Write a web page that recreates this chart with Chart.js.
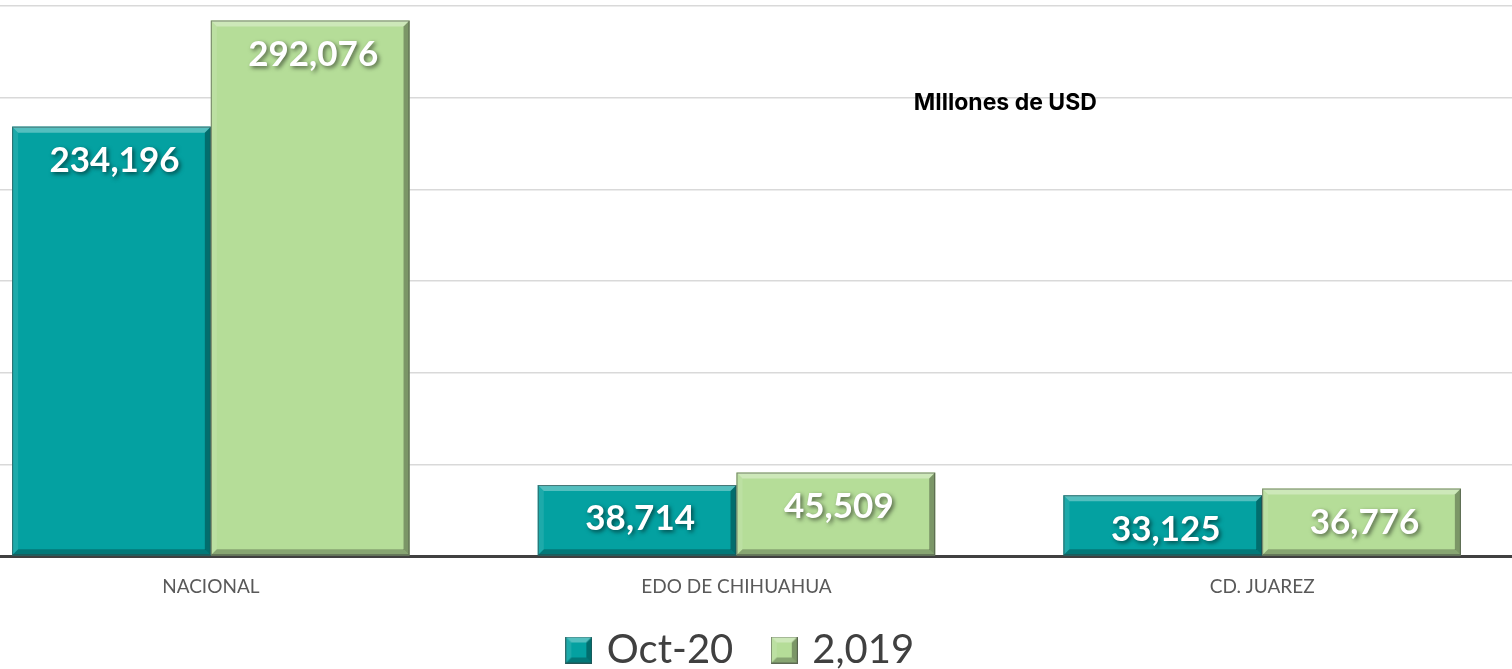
<!DOCTYPE html>
<html>
<head>
<meta charset="utf-8">
<script src="https://cdn.jsdelivr.net/npm/chart.js@4.4.1/dist/chart.umd.min.js"></script>
<style>
html,body{margin:0;padding:0;background:#fff;overflow:hidden;width:1512px;height:669px;}
#wrap{position:absolute;left:-52px;top:0;width:1577px;height:669px;}
</style>
</head>
<body>
<div id="wrap"><canvas id="c"></canvas></div>
<script>
const categories = ["NACIONAL", "EDO DE CHIHUAHUA", "CD. JUAREZ"];
const seriesNames = ["Oct-20", "2,019"];
const oct20 = [234196, 38714, 33125];
const y2019 = [292076, 45509, 36776];
const yTicks = [0, 50000, 100000, 150000, 200000, 250000, 300000];
const chartTitle = "MIllones de USD";

const colors = ["#04a1a1", "#b5dd98"];

function bevelRect(ctx, l, t, r, b, color, bw) {
  ctx.save();
  ctx.fillStyle = color;
  ctx.fillRect(l, t, r - l, b - t);
  const poly = (pts, fill) => {
    ctx.beginPath();
    ctx.moveTo(pts[0][0], pts[0][1]);
    for (let i = 1; i < pts.length; i++) ctx.lineTo(pts[i][0], pts[i][1]);
    ctx.closePath();
    ctx.fillStyle = fill;
    ctx.fill();
  };
  poly([[l,t],[r,t],[r-bw,t+bw],[l+bw,t+bw]], "rgba(255,255,255,0.32)");
  poly([[l,t],[l+bw,t+bw],[l+bw,b-bw],[l,b]], "rgba(255,255,255,0.10)");
  poly([[r,t],[r,b],[r-bw,b-bw],[r-bw,t+bw]], "rgba(0,0,0,0.32)");
  poly([[l,b],[l+bw,b-bw],[r-bw,b-bw],[r,b]], "rgba(0,0,0,0.25)");
  ctx.strokeStyle = "rgba(60,60,60,0.55)";
  ctx.lineWidth = 1;
  ctx.strokeRect(l + 0.5, t + 0.5, r - l - 1, b - t - 1);
  ctx.restore();
}

function legendIcon(color) {
  const cv = document.createElement("canvas");
  cv.width = 27; cv.height = 27;
  bevelRect(cv.getContext("2d"), 0, 0, 27, 27, color, 6);
  return cv;
}

const layoutFix = {
  id: "layoutFix",
  beforeLayout(chart) {
    const lg = chart.legend;
    if (lg && !lg._patched) {
      const origFit = lg.fit;
      lg.fit = function () { origFit.call(this); this.height = 68; };
      lg.draw = function () {
        if (!this.options.display) return;
        const c = this.ctx;
        c.save();
        c.translate(6, -14);
        this._draw();
        c.restore();
      };
      lg._patched = true;
    }
  }
};

const bevelPlugin = {
  id: "bevel",
  afterDatasetsDraw(chart) {
    const ctx = chart.ctx;
    chart.data.datasets.forEach((ds, di) => {
      const meta = chart.getDatasetMeta(di);
      meta.data.forEach((bar) => {
        const p = bar.getProps(["x", "y", "base", "width"], true);
        const l = p.x - p.width / 2, r = p.x + p.width / 2;
        bevelRect(ctx, l, p.y, r, p.base, colors[di], 6);
      });
    });
    ctx.save();
    ctx.font = "bold 35px Lato";
    ctx.textAlign = "center";
    ctx.textBaseline = "middle";
    ctx.fillStyle = "#ffffff";
    ctx.shadowColor = "rgba(0,0,0,0.55)";
    ctx.shadowBlur = 4;
    ctx.shadowOffsetX = 2;
    ctx.shadowOffsetY = 2;
    chart.data.datasets.forEach((ds, di) => {
      const meta = chart.getDatasetMeta(di);
      meta.data.forEach((bar, i) => {
        const p = bar.getProps(["x", "y"], true);
        ctx.fillText(ds.data[i].toLocaleString("en-US"), p.x + 3, p.y + 34);
      });
    });
    ctx.restore();
    ctx.save();
    ctx.font = "bold 23px Inter";
    ctx.fillStyle = "#000000";
    ctx.textAlign = "center";
    ctx.textBaseline = "middle";
    const xs = chart.scales.x, ys = chart.scales.y;
    const cx = (xs.getPixelForValue(1) + xs.getPixelForValue(2)) / 2 + 6;
    ctx.fillText(chartTitle, cx, ys.getPixelForValue(247000));
    ctx.restore();
  }
};

new Chart(document.getElementById("c"), {
  type: "bar",
  data: {
    labels: categories,
    datasets: [
      { label: seriesNames[0], data: oct20, backgroundColor: colors[0] },
      { label: seriesNames[1], data: y2019, backgroundColor: colors[1] }
    ]
  },
  plugins: [layoutFix, bevelPlugin],
  options: {
    responsive: true,
    maintainAspectRatio: false,
    animation: false,
    layout: { padding: { top: 6, left: 0, right: 0, bottom: 0 } },
    datasets: { bar: { categoryPercentage: 0.756, barPercentage: 1.0 } },
    scales: {
      x: {
        grid: { display: false },
        border: { display: true, color: "#404040", width: 3 },
        ticks: { color: "#595959", font: { family: "Lato", size: 19 }, padding: 11 },
        afterFit(axis) { axis.height = 45; }
      },
      y: {
        min: 0, max: 300000,
        afterBuildTicks(axis) { axis.ticks = yTicks.map(v => ({ value: v })); },
        afterFit(axis) { axis.width = 0; },
        ticks: { display: false },
        grid: { color: "#d9d9d9", lineWidth: 1.5, drawTicks: false },
        border: { display: false }
      }
    },
    plugins: {
      tooltip: { enabled: false },
      legend: {
        position: "bottom",
        labels: {
          color: "#404040",
          font: { family: "Lato", size: 40 },
          padding: 43,
          boxWidth: 16,
          boxHeight: 27,
          usePointStyle: true,
          pointStyleWidth: 16,
          generateLabels(chart) {
            return chart.data.datasets.map((ds, i) => ({
              text: ds.label,
              fillStyle: colors[i],
              strokeStyle: colors[i],
              pointStyle: legendIcon(colors[i]),
              fontColor: "#404040",
              hidden: false,
              datasetIndex: i,
              lineWidth: 0
            }));
          }
        }
      }
    }
  }
});
</script>
</body>
</html>
